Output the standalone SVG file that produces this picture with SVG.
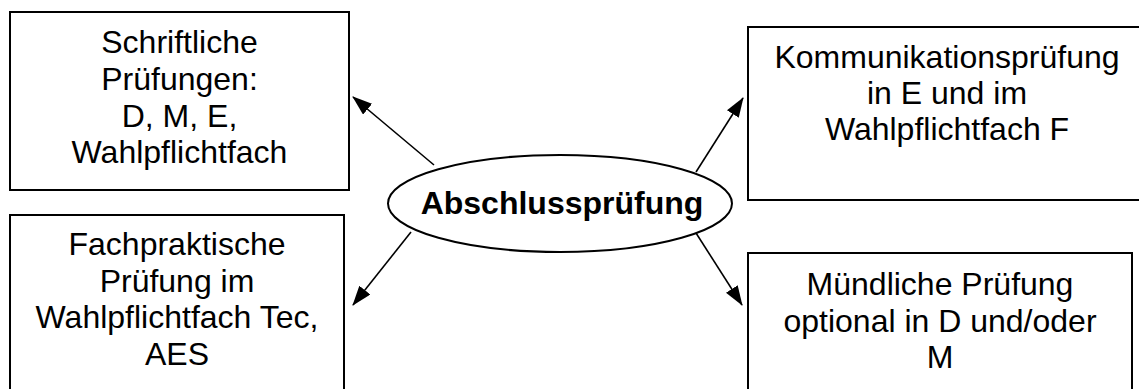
<svg xmlns="http://www.w3.org/2000/svg" width="1139" height="389" viewBox="0 0 1139 389">
<defs>
<marker id="ah" markerWidth="20" markerHeight="14" refX="19" refY="7" orient="auto" markerUnits="userSpaceOnUse">
<path d="M0,0 L20,7 L0,14 Z" fill="#000"/>
</marker>
<style>
.box{fill:#fff;stroke:#000;stroke-width:2}
.t{font-family:"Liberation Sans",Arial,sans-serif;font-size:32px;text-anchor:middle;fill:#000}
.b{font-family:"Liberation Sans",Arial,sans-serif;font-size:32px;font-weight:bold;text-anchor:middle;fill:#000}
.c{stroke:#000;stroke-width:1.6;fill:none;marker-end:url(#ah)}
</style>
</defs>
<rect width="1139" height="389" fill="#fff"/>
<g id="n1">
<rect class="box" x="10" y="12" width="339" height="178"/>
<text class="t" x="179.5" y="53">Schriftliche</text>
<text class="t" x="179.5" y="90">Prüfungen:</text>
<text class="t" x="179.5" y="127">D, M, E,</text>
<text class="t" x="179.5" y="163">Wahlpflichtfach</text>
</g>
<g id="n2">
<rect class="box" x="10" y="215" width="334" height="190"/>
<text class="t" x="177" y="255">Fachpraktische</text>
<text class="t" x="177" y="292">Prüfung im</text>
<text class="t" x="177" y="328">Wahlpflichtfach Tec,</text>
<text class="t" x="177" y="365">AES</text>
</g>
<g id="n3">
<rect class="box" x="748" y="27" width="410" height="173"/>
<text class="t" x="947" y="68">Kommunikationsprüfung</text>
<text class="t" x="947" y="104">in E und im</text>
<text class="t" x="947" y="140">Wahlpflichtfach F</text>
</g>
<g id="n4">
<rect class="box" x="748" y="253" width="384" height="160"/>
<text class="t" x="940" y="295">Mündliche Prüfung</text>
<text class="t" x="940" y="332">optional in D und/oder</text>
<text class="t" x="940" y="368">M</text>
</g>
<g id="center">
<ellipse cx="560" cy="203.5" rx="172" ry="48.5" fill="#fff" stroke="#000" stroke-width="2"/>
<text class="b" x="562" y="214">Abschlussprüfung</text>
</g>
<g id="connectors">
<line class="c" x1="434" y1="165" x2="353" y2="97"/>
<line class="c" x1="411" y1="232" x2="353" y2="305"/>
<line class="c" x1="696" y1="172" x2="743" y2="98"/>
<line class="c" x1="696" y1="233" x2="742" y2="305"/>
</g>
</svg>
